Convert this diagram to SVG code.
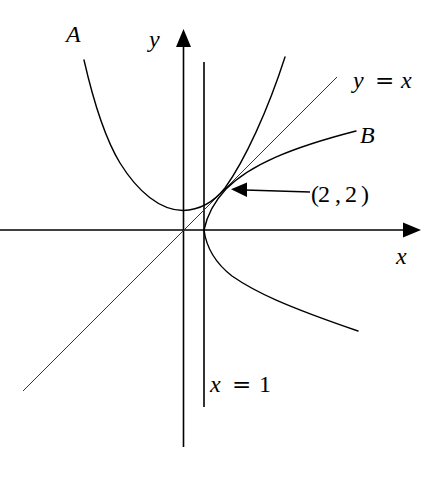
<svg xmlns="http://www.w3.org/2000/svg" width="437" height="485" viewBox="0 0 437 485">
<style>
.ax{stroke:#000;stroke-width:1.6;fill:none}
.cv{stroke:#000;stroke-width:1.4;fill:none;stroke-linecap:round}
.ln{stroke:#333;stroke-width:1;fill:none}
.t{font-family:"Liberation Serif","DejaVu Serif",serif;font-size:24px;fill:#000}
.i{font-style:italic}
.eq{font-family:"DejaVu Serif",serif;font-size:23px}
</style>
<rect width="437" height="485" fill="#fff"/>
<g id="connectors">
<line id="x-axis" class="ax" x1="0" y1="230" x2="405" y2="230"/>
<polygon points="421,230 403,222.5 403,237.5" fill="#000"/>
<line id="y-axis" class="ax" x1="183.5" y1="447" x2="183.5" y2="44"/>
<polygon points="183.5,29 176,47 191,47" fill="#000"/>
<line id="x-eq-1" class="ax" x1="204" y1="62" x2="204" y2="407"/>
<line id="y-eq-x" class="ln" x1="23" y1="391" x2="337" y2="77"/>
<path id="curve-A" class="cv" d="M84,60 C92,95 103,135 120,163 C138,192 160,210 183,210.5 C200,210 213,203 225,188 C245,160 268,110 285,57"/>
<path id="curve-B-upper" class="cv" d="M204,230 C207,215 214,202 226,189 C250,165 290,148 356,131"/>
<path id="curve-B-lower" class="cv" d="M204,230 C206,245 214,262 232,276 C255,292 285,306 358,331"/>
<line id="arrow-line" class="ax" x1="310" y1="192" x2="245" y2="190"/>
<polygon points="231,189.3 247,182.5 247,197" fill="#000"/>
</g>
<g id="label-A"><text class="t i" x="66" y="42">A</text></g>
<g id="label-y"><text class="t i" x="149" y="47">y</text></g>
<g id="label-yx"><text class="t" y="88"><tspan class="i" x="353">y</tspan><tspan class="eq" x="375">=</tspan><tspan class="i" x="401">x</tspan></text></g>
<g id="label-B"><text class="t i" x="360" y="143">B</text></g>
<g id="label-22"><text class="t" y="202"><tspan x="311">(</tspan><tspan x="318">2</tspan><tspan x="335">,</tspan><tspan x="345">2</tspan><tspan x="361">)</tspan></text></g>
<g id="label-x"><text class="t i" x="396" y="264">x</text></g>
<g id="label-x1"><text class="t" y="392"><tspan class="i" x="210">x</tspan><tspan class="eq" x="232">=</tspan><tspan x="259">1</tspan></text></g>
</svg>
